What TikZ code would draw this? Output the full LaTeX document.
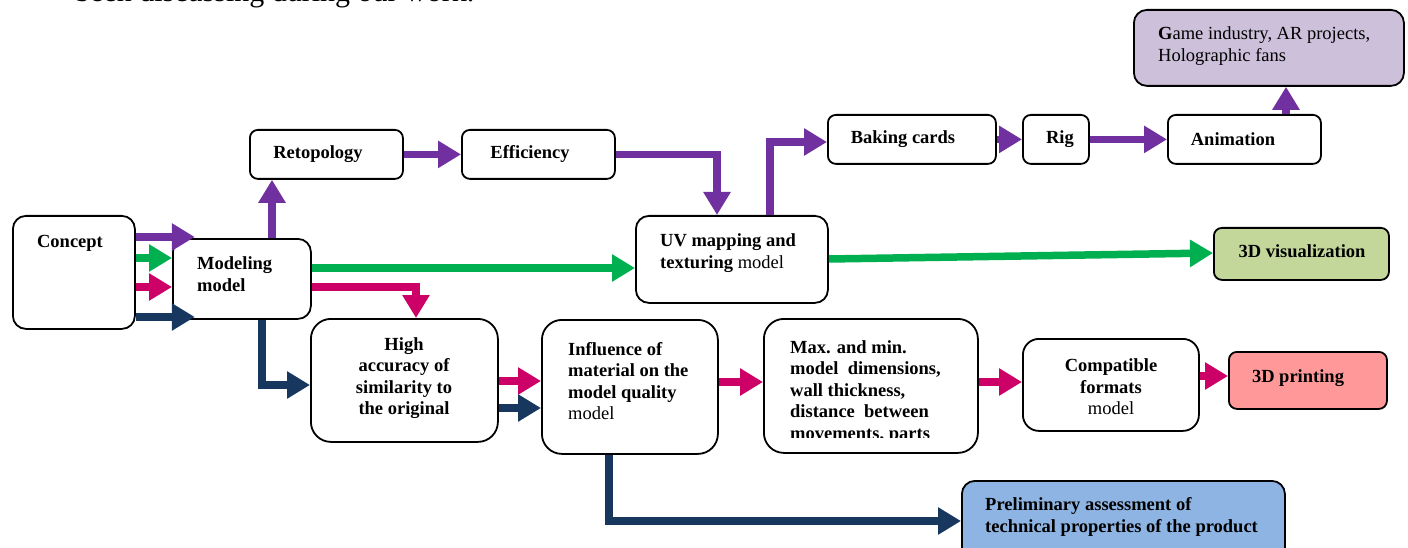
\documentclass[tikz,border=0pt]{standalone}
\usepackage{fontspec}
\setmainfont{Liberation Serif}
\usetikzlibrary{arrows.meta}
\definecolor{cpur}{HTML}{7030A0}
\definecolor{cgrn}{HTML}{00B050}
\definecolor{cmag}{HTML}{CC0066}
\definecolor{cnav}{HTML}{17375E}
\definecolor{fgame}{HTML}{CCC0DA}
\definecolor{fvis}{HTML}{C4D79B}
\definecolor{fprint}{HTML}{FF9999}
\definecolor{fpre}{HTML}{8DB4E2}
\begin{document}
\begin{tikzpicture}[x=1pt,y=-1pt,
  box/.style={draw=black, line width=1.8pt, rounded corners=13pt, inner sep=0pt, anchor=north west, fill=white},
  sbox/.style={box, rounded corners=8pt},
  txt/.style={font=\fontsize{18.5}{21.5}\selectfont\bfseries, inner sep=0pt, align=center},
  ltxt/.style={txt, align=left, anchor=west},
  conn/.style={line width=7.5pt, -{Triangle[length=23pt,width=26pt]}}]
\useasboundingbox (0,0) rectangle (1408,548);

\node[anchor=base west, inner sep=0pt, font=\fontsize{30}{32}\selectfont] (top) at (75,2) {been discussing during our work.};

% boxes
\node[box, minimum width=122pt, minimum height=113pt] (concept) at (12,215) {};
\node[txt] (conceptT) at (70,243) {Concept};
\node[box, minimum width=138pt, minimum height=80pt] (model) at (172,238) {};
\node[ltxt] (modelT) at (197,274) {Modeling\\model};
\node[sbox, minimum width=153pt, minimum height=49pt] (retop) at (249,129) {};
\node[txt] (retopT) at (318,154) {Retopology};
\node[sbox, minimum width=153pt, minimum height=49pt] (eff) at (461,129) {};
\node[txt] (effT) at (530,154) {Efficiency};
\node[box, minimum width=192pt, minimum height=87pt] (uv) at (635,215) {};
\node[ltxt] (uvT) at (660,253) {UV mapping and\\texturing {\mdseries model}};
\node[sbox, minimum width=168pt, minimum height=49pt] (bake) at (827,114) {};
\node[txt] (bakeT) at (903,139) {Baking cards};
\node[sbox, minimum width=66pt, minimum height=49pt] (rig) at (1022,114) {};
\node[txt] (rigT) at (1060,139) {Rig};
\node[sbox, minimum width=153pt, minimum height=49pt] (anim) at (1167,114) {};
\node[txt] (animT) at (1233,139) {Animation};
\node[box, fill=fgame, minimum width=270pt, minimum height=76pt] (game) at (1133,9) {};
\node[ltxt, font=\fontsize{18.5}{21.5}\selectfont] (gameT) at (1158,46) {{\bfseries G}ame industry, AR projects,\\Holographic fans};
\node[sbox, fill=fvis, minimum width=175pt, minimum height=52pt] (vis) at (1213,227) {};
\node[txt] (visT) at (1302,251) {3D visualization};
\node[box, rounded corners=20pt, minimum width=187pt, minimum height=123pt] (high) at (310,318) {};
\node[txt] (highT) at (404,378) {High\\accuracy of\\similarity to\\the original};
\node[box, rounded corners=20pt, minimum width=176pt, minimum height=134pt] (infl) at (541,319) {};
\node[ltxt] (inflT) at (568,381) {Influence of\\material on the\\model quality\\{\mdseries model}};
\node[box, rounded corners=20pt, minimum width=214pt, minimum height=134pt] (maxm) at (763,318) {};
\begin{scope}
\clip (770,325) rectangle (972,437);
\node[ltxt] (maxmT) at (790,392) {Max. and min.\\model\ \ dimensions,\\wall thickness,\\distance\ \ between\\movements, parts};
\end{scope}
\node[box, rounded corners=16pt, minimum width=176pt, minimum height=92pt] (compat) at (1022,338) {};
\node[txt] (compatT) at (1111,387) {Compatible\\formats\\{\mdseries model}};
\node[sbox, fill=fprint, minimum width=158pt, minimum height=57pt] (print) at (1228,351) {};
\node[txt] (printT) at (1298,378) {3D printing};
\node[box, fill=fpre, minimum width=323pt, minimum height=90pt] (prelim) at (961,480) {};
\node[ltxt] (prelimT) at (985,517) {Preliminary assessment of\\technical properties of the product};

% connectors
\draw[conn, cpur] (concept.east |- 0,237) -- ++(59,0);
\draw[conn, cgrn] (concept.east |- 0,258) -- (model.west |- 0,258);
\draw[conn, cmag] (concept.east |- 0,287) -- (model.west |- 0,287);
\draw[conn, cnav] (concept.east |- 0,317) -- ++(59,0);
\draw[conn, cpur] (model.north -| 272,0) -- (retop.south -| 272,0);
\draw[conn, cpur] (retop.east) -- (eff.west);
\draw[conn, cpur] (eff.east) -| (uv.north -| 717,0);
\draw[conn, cpur] (uv.north -| 770,0) |- (bake.west |- 0,142);
\draw[conn, cpur] (bake.east) -- (rig.west);
\draw[conn, cpur] (rig.east) -- (anim.west);
\draw[conn, cpur] (anim.north -| 1286,0) -- (game.south -| 1286,0);
\draw[conn, cgrn] (model.east |- 0,268) -- (uv.west |- 0,268);
\draw[conn, cgrn] (uv.east |- 0,259) -- (vis.west |- 0,253);
\draw[conn, cmag] (model.east |- 0,287) -| (high.north -| 416,0);
\draw[conn, cnav] (model.south -| 262,0) |- (high.west |- 0,385);
\draw[conn, cmag] (high.east |- 0,381) -- (infl.west |- 0,381);
\draw[conn, cnav] (high.east |- 0,408) -- (infl.west |- 0,408);
\draw[conn, cmag] (infl.east |- 0,382) -- (maxm.west |- 0,382);
\draw[conn, cmag] (maxm.east |- 0,382) -- (compat.west |- 0,382);
\draw[conn, cmag] (compat.east |- 0,376) -- (print.west |- 0,376);
\draw[conn, cnav] (infl.south -| 609,0) |- (prelim.west |- 0,521);
\end{tikzpicture}
\end{document}
